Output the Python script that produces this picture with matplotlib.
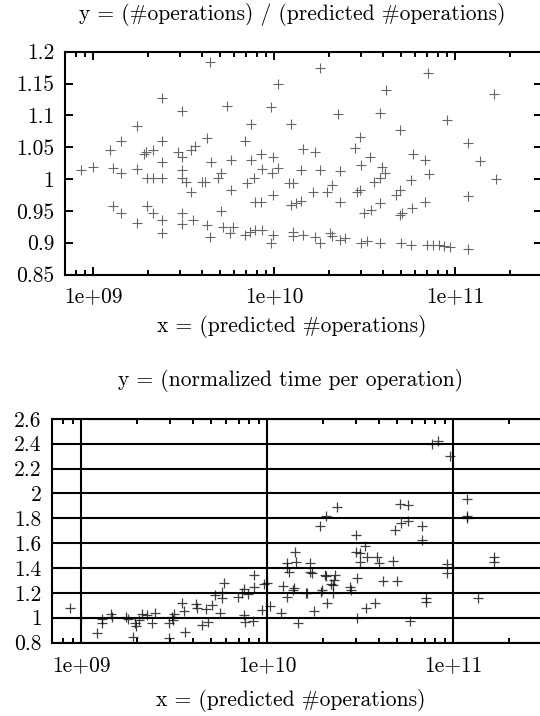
import matplotlib
matplotlib.use("Agg")
import matplotlib.pyplot as plt
from matplotlib.ticker import LogLocator, NullFormatter

plt.rcParams['font.family'] = ['cmr10', 'DejaVu Serif']
plt.rcParams['axes.unicode_minus'] = False

# top chart: ratio of counted to predicted operations
ops_x = [8.57e8, 1.0e9, 1.24e9, 1.29e9, 1.29e9, 1.42e9, 1.42e9, 1.42e9, 1.74e9, 1.74e9,
         1.74e9, 1.90e9, 1.95e9, 1.98e9, 1.98e9, 2.13e9, 2.13e9, 2.13e9, 2.40e9, 2.40e9,
         2.40e9, 2.40e9, 2.40e9, 2.40e9, 2.94e9, 3.10e9, 3.10e9, 3.10e9, 3.10e9, 3.10e9,
         3.10e9, 3.24e9, 3.47e9, 3.47e9, 3.53e9, 3.63e9, 4.0e9, 4.16e9, 4.22e9, 4.22e9,
         4.41e9, 4.41e9, 4.45e9, 4.85e9, 5.07e9, 5.07e9, 5.18e9, 5.48e9, 5.68e9, 5.78e9,
         5.78e9, 5.93e9, 6.89e9, 6.89e9, 7.04e9, 7.29e9, 7.45e9, 7.45e9, 7.72e9, 7.78e9,
         7.85e9, 8.44e9, 8.44e9, 8.58e9, 8.58e9, 9.57e9, 9.7e9, 9.83e9, 9.83e9, 9.83e9,
         9.6e9, 1.05e10, 1.04e10, 1.21e10, 1.23e10, 1.23e10, 1.27e10, 1.27e10, 1.27e10, 1.32e10,
         1.41e10, 1.43e10, 1.43e10, 1.41e10, 1.64e10, 1.68e10, 1.68e10, 1.78e10, 1.79e10, 1.79e10,
         1.94e10, 2.03e10, 2.07e10, 2.07e10, 2.25e10, 2.31e10, 2.31e10, 2.31e10, 2.44e10, 2.78e10,
         2.86e10, 2.97e10, 2.97e10, 3.01e10, 3.01e10, 3.14e10, 3.24e10, 3.39e10, 3.43e10, 3.54e10,
         3.83e10, 3.83e10, 3.83e10, 3.83e10, 3.95e10, 4.09e10, 4.16e10, 4.70e10, 4.91e10, 4.91e10,
         4.91e10, 5.01e10, 5.09e10, 5.65e10, 5.65e10, 5.73e10, 5.86e10, 6.75e10, 6.83e10, 6.98e10,
         7.05e10, 7.13e10, 7.55e10, 8.13e10, 8.69e10, 9.29e10, 8.96e10, 1.17e11, 1.17e11, 1.17e11,
         1.36e11, 1.64e11, 1.68e11]
ops_ratio = [1.014, 1.019, 1.046, 1.018, 0.958, 1.059, 1.009, 0.947, 1.083, 1.015,
             0.931, 1.040, 1.043, 1.001, 0.958, 1.001, 1.046, 0.947, 1.059, 1.026,
             1.001, 1.127, 0.936, 0.915, 1.043, 1.107, 1.035, 1.014, 1.001, 0.947,
             0.930, 0.996, 1.046, 0.980, 0.936, 1.052, 0.996, 0.996, 1.065, 0.928,
             1.184, 0.909, 1.026, 1.001, 1.009, 0.949, 0.925, 1.115, 0.915, 1.030,
             0.983, 0.925, 1.060, 0.912, 0.994, 0.917, 1.086, 1.030, 1.001, 0.920,
             0.964, 1.040, 0.964, 1.015, 0.920, 1.113, 1.010, 1.034, 0.975, 0.912,
             0.899, 1.018, 1.150, 0.994, 1.086, 0.959, 0.994, 0.916, 0.910, 0.962,
             1.014, 1.047, 0.912, 0.966, 0.979, 1.043, 0.909, 1.174, 1.014, 0.899,
             0.980, 0.915, 0.991, 0.910, 1.102, 1.012, 0.964, 0.904, 0.907, 1.048,
             0.980, 1.066, 0.983, 1.022, 0.900, 0.947, 0.902, 1.035, 0.951, 0.996,
             1.103, 0.962, 0.899, 1.001, 1.019, 1.009, 1.140, 0.975, 0.983, 0.943,
             1.077, 0.899, 0.947, 0.998, 0.896, 0.954, 1.040, 1.030, 0.964, 0.896,
             1.166, 1.008, 0.896, 0.896, 0.895, 0.894, 1.093, 1.057, 0.974, 0.890,
             1.028, 1.133, 1.000]

# bottom chart: normalized time per operation
time_x = [8.65e8, 1.0e9, 1.22e9, 1.29e9, 1.30e9, 1.44e9, 1.47e9, 1.73e9, 1.79e9, 1.90e9,
          1.94e9, 1.98e9, 2.04e9, 2.13e9, 2.26e9, 2.39e9, 2.49e9, 2.96e9, 2.96e9, 3.06e9,
          3.15e9, 3.12e9, 3.46e9, 3.56e9, 3.61e9, 4.12e9, 4.20e9, 4.44e9, 4.70e9, 4.82e9,
          5.02e9, 5.23e9, 5.55e9, 5.73e9, 5.85e9, 5.73e9, 6.98e9, 7.34e9, 7.50e9, 7.91e9,
          8.47e9, 8.50e9, 7.50e9, 7.60e9, 8.38e9, 9.60e9, 9.40e9,
          9.9e9, 1.04e10, 1.19e10, 1.22e10, 1.27e10, 1.39e10, 1.30e10, 1.47e10, 1.63e10, 1.70e10,
          1.78e10, 1.94e10, 2.10e10, 2.07e10, 2.26e10, 2.30e10, 2.26e10, 2.79e10, 2.80e10, 3.03e10,
          3.03e10, 3.40e10, 3.80e10, 4.18e10, 4.97e10, 5.86e10, 7.13e10, 7.13e10, 9.3e10, 1.35e11,
          7.71e10, 8.22e10, 9.55e10, 1.19e11, 1.19e11, 1.19e11, 1.66e11, 1.66e11, 9.3e10, 6.78e10,
          6.78e10, 5.14e10, 5.71e10, 4.88e10, 5.25e10, 5.71e10, 4.71e10, 3.89e10, 3.97e10, 3.01e10,
          3.01e10, 3.14e10, 3.35e10, 3.42e10, 3.14e10, 1.92e10, 2.08e10, 2.36e10, 1.40e10, 1.43e10,
          1.27e10, 1.27e10, 1.69e10, 1.73e10, 2.05e10, 2.28e10, 2.21e10, 1.96e10, 1.61e10, 1.38e10]
time_norm = [1.075, 1.0, 0.880, 0.960, 0.987, 1.029, 1.003, 1.003, 0.987, 0.842,
             0.960, 0.933, 0.981, 1.027, 1.021, 0.954, 1.040, 0.834, 0.954, 1.003,
             1.029, 0.981, 1.120, 1.056, 0.888, 1.110, 1.075, 0.941, 1.067, 0.968,
             1.102, 1.182, 1.035, 1.209, 1.281, 1.155, 1.169, 1.195, 1.228, 1.190,
             1.343, 1.249, 1.021, 0.968, 0.976, 1.270, 1.062,
             1.276, 1.094, 1.040, 1.254, 1.169, 1.236, 1.369, 0.954, 1.200, 1.369,
             1.056, 1.209, 1.115, 1.335, 1.262, 1.343, 1.195, 1.249, 1.220, 1.316,
             1.000, 1.075, 1.115, 1.297, 1.297, 0.976, 1.155, 1.123, 1.361, 1.155,
             2.397, 2.419, 2.297, 1.957, 1.816, 1.800, 1.492, 1.450, 1.430, 1.735,
             1.627, 1.911, 1.903, 1.708, 1.762, 1.776, 1.457, 1.492, 1.443, 1.668,
             1.532, 1.519, 1.573, 1.492, 1.451, 1.735, 1.816, 1.892, 1.532, 1.451,
             1.438, 1.397, 1.443, 1.362, 1.343, 1.303, 1.270, 1.222, 1.195, 1.227]

x_ticks = [1e9, 1e10, 1e11]
x_labels = ['1e+09', '1e+10', '1e+11']
top_yticks = [0.85, 0.9, 0.95, 1.0, 1.05, 1.1, 1.15, 1.2]
top_ylabels = ['0.85', '0.9', '0.95', '1', '1.05', '1.1', '1.15', '1.2']
bot_yticks = [0.8, 1.0, 1.2, 1.4, 1.6, 1.8, 2.0, 2.2, 2.4, 2.6]
bot_ylabels = ['0.8', '1', '1.2', '1.4', '1.6', '1.8', '2', '2.2', '2.4', '2.6']

fig = plt.figure(figsize=(5.4, 7.16), dpi=100)

def setup(ax, yticks, ylabels, ylim):
    ax.set_xscale('log')
    ax.set_xlim(7e8, 3e11)
    ax.set_ylim(*ylim)
    ax.set_xticks(x_ticks, x_labels)
    ax.xaxis.set_minor_locator(LogLocator(base=10, subs=range(2, 10)))
    ax.xaxis.set_minor_formatter(NullFormatter())
    ax.set_yticks(yticks, ylabels)
    ax.tick_params(which='both', direction='in', top=True, right=True,
                   labelsize=15.5, width=1.4)
    ax.tick_params(which='major', length=6)
    ax.tick_params(which='minor', length=3.5)
    ax.tick_params(axis='x', pad=9)
    ax.tick_params(axis='y', pad=8)
    for s in ax.spines.values():
        s.set_linewidth(1.5)

ax1 = fig.add_axes([0.1211, 0.6166, 0.8822, 0.3112])
setup(ax1, top_yticks, top_ylabels, (0.85, 1.2))
ax1.plot(ops_x, ops_ratio, '+', color='0.4', markersize=6.5, markeredgewidth=0.8)

ax2 = fig.add_axes([0.0972, 0.1025, 0.9067, 0.3126])
setup(ax2, bot_yticks, bot_ylabels, (0.8, 2.6))
ax2.grid(True, which='major', color='black', linewidth=1.5)
ax2.set_axisbelow(True)
ax2.plot(time_x, time_norm, '+', color='black', alpha=0.75, markersize=6.5, markeredgewidth=0.9)

fig.text(292 / 540, 1 - 15 / 716, 'y = (#operations) / (predicted #operations)',
         ha='center', va='center', fontsize=15.5)
fig.text(292 / 540, 1 - 326 / 716, 'x = (predicted #operations)',
         ha='center', va='center', fontsize=15.5)
fig.text(291 / 540, 1 - 381 / 716, 'y = (normalized time per operation)',
         ha='center', va='center', fontsize=15.5)
fig.text(291 / 540, 1 - 700 / 716, 'x = (predicted #operations)',
         ha='center', va='center', fontsize=15.5)

fig.savefig('out.png', dpi=100)
